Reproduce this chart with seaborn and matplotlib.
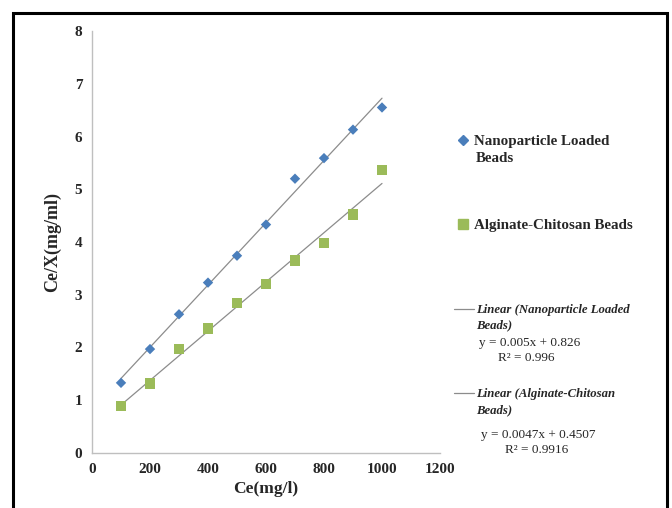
import numpy as np
import pandas as pd
import seaborn as sns
from matplotlib import pyplot as plt
from matplotlib.lines import Line2D
from matplotlib.patches import Rectangle

# Ce (mg/l) and Ce/X (mg/ml)
ce = [100, 200, 300, 400, 500, 600, 700, 800, 900, 1000]
nano_beads = [1.33, 1.97, 2.63, 3.23, 3.74, 4.33, 5.20, 5.59, 6.13, 6.55]
alginate_beads = [0.89, 1.32, 1.97, 2.36, 2.84, 3.20, 3.65, 3.98, 4.52, 5.37]

series_names = ['Nanoparticle Loaded Beads', 'Alginate-Chitosan Beads']
equations = ['y = 0.005x + 0.826', 'y = 0.0047x + 0.4507']
r_squared = ['R\u00b2 = 0.996', 'R\u00b2 = 0.9916']

x_ticks = [0, 200, 400, 600, 800, 1000, 1200]
y_ticks = [0, 1, 2, 3, 4, 5, 6, 7, 8]

BLUE = '#4a7ebb'
GREEN = '#9bbb59'
TREND = '#8c8c8c'
SPINE = '#bfbfbf'

df = pd.DataFrame({
    'Ce': ce * 2,
    'CeX': nano_beads + alginate_beads,
    'series': [series_names[0]] * len(ce) + [series_names[1]] * len(ce),
})

sns.set_style('white')
plt.rcParams['font.family'] = ['Liberation Serif', 'DejaVu Serif']

fig = plt.figure(figsize=(6.72, 5.08), dpi=100)
ax = fig.add_axes([92 / 672, 1 - 453 / 508, 348 / 672, 422 / 508])

# trend lines first so markers sit on top
for values in (nano_beads, alginate_beads):
    sns.regplot(x=ce, y=values, ax=ax, scatter=False, ci=None,
                line_kws={'color': TREND, 'linewidth': 0.9})

sns.scatterplot(data=df, x='Ce', y='CeX', hue='series', style='series',
                markers={series_names[0]: 'D', series_names[1]: 's'},
                palette={series_names[0]: BLUE, series_names[1]: GREEN},
                s=40, linewidth=0, legend=False, ax=ax, zorder=3)
# diamonds a bit smaller than squares
ax.collections[-1].set_sizes([28 if name == series_names[0] else 55 for name in df['series']])

ax.set_xlim(0, 1200)
ax.set_ylim(0, 8)
ax.set_xticks(x_ticks)
ax.set_yticks(y_ticks)
for side in ('top', 'right'):
    ax.spines[side].set_visible(False)
for side in ('left', 'bottom'):
    ax.spines[side].set_color(SPINE)
    ax.spines[side].set_linewidth(1.0)
ax.tick_params(axis='both', which='major', direction='out', length=4, width=1.0,
               color=SPINE, labelsize=11, pad=3)
for label in ax.get_xticklabels() + ax.get_yticklabels():
    label.set_fontweight('bold')

ax.set_xlabel('Ce(mg/l)', fontsize=12.5, fontweight='bold', labelpad=4)
ax.set_ylabel('Ce/X(mg/ml)', fontsize=13, fontweight='bold', labelpad=10)


def _legend_entry(handle, label, x_px, y_px, size, style, handlelength, textpad):
    leg = fig.legend([handle], [label], loc='center left',
                     bbox_to_anchor=(x_px / 672, 1 - y_px / 508), bbox_transform=fig.transFigure,
                     frameon=False, borderpad=0, borderaxespad=0, handlelength=handlelength,
                     handletextpad=textpad, prop={'size': size, 'weight': 'bold', 'style': style,
                                                   'family': 'Liberation Serif'})
    return leg


diamond = Line2D([], [], marker='D', color=BLUE, linestyle='none', markersize=5)
square = Line2D([], [], marker='s', color=GREEN, linestyle='none', markersize=7)
trend_line = Line2D([], [], color=TREND, linewidth=0.9)

_legend_entry(diamond, 'Nanoparticle Loaded', 455, 141, 10.8, 'normal', 1.0, 0.3)
fig.text(476 / 672, 1 - 159 / 508, 'Beads', fontsize=10.8, fontweight='bold', va='center')
_legend_entry(square, 'Alginate-Chitosan Beads', 455, 225, 10.8, 'normal', 1.0, 0.3)

_legend_entry(trend_line, 'Linear (Nanoparticle Loaded', 454, 310, 9.2, 'italic', 1.6, 0.15)
fig.text(476 / 672, 1 - 325 / 508, 'Beads)', fontsize=9.2, fontweight='bold', style='italic', va='center')
fig.text(530 / 672, 1 - 343 / 508, equations[0], fontsize=9.5, ha='center', va='center')
fig.text(526 / 672, 1 - 358 / 508, r_squared[0], fontsize=9.5, ha='center', va='center')

_legend_entry(trend_line, 'Linear (Alginate-Chitosan', 454, 394, 9.2, 'italic', 1.6, 0.15)
fig.text(476 / 672, 1 - 410 / 508, 'Beads)', fontsize=9.2, fontweight='bold', style='italic', va='center')
fig.text(538 / 672, 1 - 435 / 508, equations[1], fontsize=9.5, ha='center', va='center')
fig.text(537 / 672, 1 - 450 / 508, r_squared[1], fontsize=9.5, ha='center', va='center')

# black frame around the chart area, open at the bottom edge of the image
fig.patches.append(Rectangle((13 / 672, -0.05), 654 / 672, 1.05 - 13 / 508, transform=fig.transFigure,
                             fill=False, edgecolor='black', linewidth=2.2, zorder=10))

fig.savefig('out.png', dpi=100, facecolor='white')
